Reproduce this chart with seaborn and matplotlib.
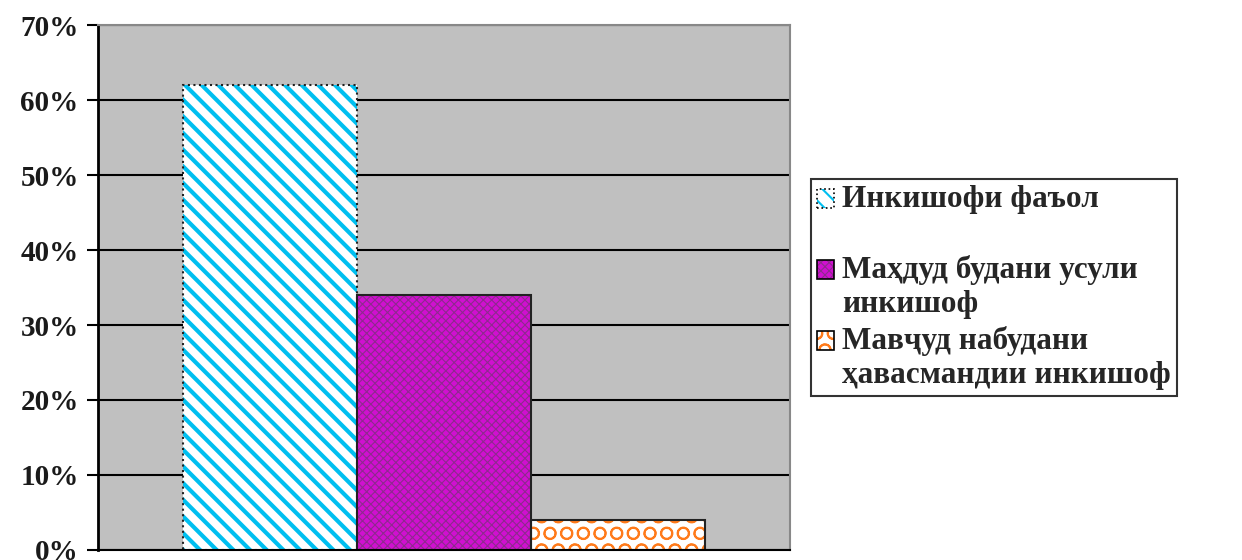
import numpy as np
import pandas as pd
import matplotlib
matplotlib.use("Agg")
import matplotlib.pyplot as plt
import matplotlib.patches as mpatches
import seaborn as sns

# Data
categories = ["Инкишофи фаъол", "Маҳдуд будани усули инкишоф", "Мавҷуд набудани ҳавасмандии инкишоф"]
legend_labels = ["Инкишофи фаъол\n", "Маҳдуд будани усули\nинкишоф", "Мавҷуд набудани\nҳавасмандии инкишоф"]
values = [62, 34, 4]
ticks = [0, 10, 20, 30, 40, 50, 60, 70]

df = pd.DataFrame({"group": ["g"] * 3, "category": categories, "value": values})

sns.set_style("white")
plt.rcParams["font.family"] = ["Liberation Serif", "DejaVu Serif"]
plt.rcParams["hatch.linewidth"] = 3.0

fig = plt.figure(figsize=(12.42, 5.6), dpi=100)
ax = fig.add_axes([0.079, 0.018, 0.557, 0.937])

sns.barplot(data=df, x="group", y="value", hue="category", hue_order=categories,
            width=0.754, ax=ax, legend=False, saturation=1)

faces = ["white", "#D010D0", "white"]
hatch_cols = ["#00BFF0", "#8E2A8E", "#FF7A1A"]
hatches = ["\\\\", "xxxx", "O"]
hatch_lws = [3.0, 0.8, 1.3]
edge_styles = [":", "-", "-"]

for p, fc, hc, h, hl, ls in zip(ax.patches, faces, hatch_cols, hatches, hatch_lws, edge_styles):
    p.set_facecolor(fc)
    p.set_edgecolor(hc)
    p.set_hatch(h)
    if hasattr(p, "set_hatch_linewidth"):
        p.set_hatch_linewidth(hl)
    p.set_linewidth(0)
    outline = mpatches.Rectangle(p.get_xy(), p.get_width(), p.get_height(),
                                 fill=False, edgecolor="#222222", linewidth=1.5,
                                 linestyle=ls, zorder=p.get_zorder() + 0.1)
    ax.add_patch(outline)

ax.set_facecolor("#C0C0C0")
ax.set_xlim(-0.5, 0.5)
ax.set_ylim(0, 70)
ax.set_yticks(ticks)
ax.set_yticklabels([f"{t}%" for t in ticks], fontsize=21, fontweight="bold", color="#1a1a1a")
ax.set_xticks([])
ax.set_xlabel("")
ax.set_ylabel("")
ax.yaxis.grid(True, color="black", linewidth=1.5)
ax.set_axisbelow(True)
ax.tick_params(axis="y", left=True, length=8, width=1.5, color="black", pad=6)
for s in ["top", "right"]:
    ax.spines[s].set_color("#888888")
    ax.spines[s].set_linewidth(1.5)
ax.spines["left"].set_color("black")
ax.spines["left"].set_linewidth(2)
ax.spines["bottom"].set_color("black")
ax.spines["bottom"].set_linewidth(1.5)


# legend marker: hatched square with outline, placed next to the first text line
class LegendSquare:
    def __init__(self, fc, hc, hatch, hlw, ls):
        self.fc, self.hc, self.hatch, self.hlw, self.ls = fc, hc, hatch, hlw, ls


class SquareHandler:
    def legend_artist(self, legend, orig, fontsize, handlebox):
        x0, y0 = handlebox.xdescent, handlebox.ydescent
        w, h = handlebox.width, handlebox.height
        shift = 0.55 * fontsize
        fill = mpatches.Rectangle((-x0, -y0 + shift), w, h, facecolor=orig.fc,
                                  edgecolor=orig.hc, hatch=orig.hatch, linewidth=0,
                                  transform=handlebox.get_transform())
        if hasattr(fill, "set_hatch_linewidth"):
            fill.set_hatch_linewidth(orig.hlw)
        edge = mpatches.Rectangle((-x0, -y0 + shift), w, h, fill=False, edgecolor="black",
                                  linewidth=1.2, linestyle=orig.ls,
                                  transform=handlebox.get_transform())
        handlebox.add_artist(fill)
        handlebox.add_artist(edge)
        return fill


handles = [LegendSquare(fc, hc, h, min(hl, 1.5), ls)
           for fc, hc, h, hl, ls in zip(faces, hatch_cols, hatches, hatch_lws, edge_styles)]
leg = fig.legend(handles, legend_labels, loc="upper left", bbox_to_anchor=(0.653, 0.681),
                 prop={"size": 22.5, "weight": "bold"}, frameon=True, fancybox=False,
                 edgecolor="black", handlelength=0.55, handleheight=0.55, handletextpad=0.25,
                 labelspacing=0.25, borderpad=0.2, borderaxespad=0,
                 handler_map={LegendSquare: SquareHandler()})
leg.get_frame().set_linewidth(1.5)

fig.savefig("out.png", dpi=100)
